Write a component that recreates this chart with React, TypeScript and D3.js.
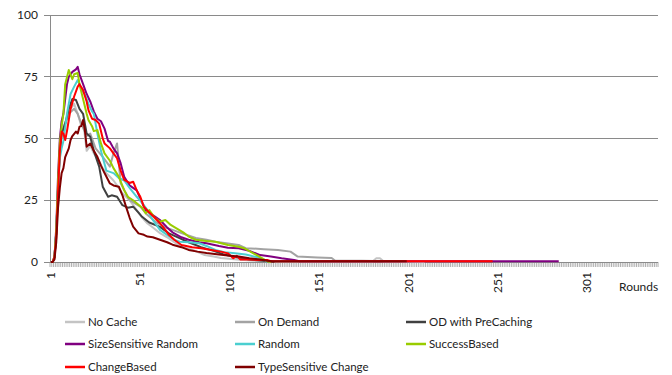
import React from "react";
import * as d3 from "d3";

const roundCount = 340;
const xTickLabels = [1, 51, 101, 151, 201, 251, 301];
const yTicks = [0, 25, 50, 75, 100];

const seriesNames = [
  "No Cache",
  "On Demand",
  "OD with PreCaching",
  "SizeSensitive Random",
  "Random",
  "SuccessBased",
  "ChangeBased",
  "TypeSensitive Change",
];
const seriesColors = [
  "#c4c4c4",
  "#a3a3a3",
  "#404040",
  "#800080",
  "#4bcfd0",
  "#99cc00",
  "#ff0000",
  "#800000",
];

// [round, value]
const noCache: [number, number][] = [
  [1, 0], [2, 0], [3, 2], [4, 12], [5, 30], [6, 44], [7, 50], [8, 55], [10, 58], [12, 62], [14, 64], [16, 60],
  [18, 55], [19, 57], [21, 45], [23, 47], [25, 44], [27, 42], [30, 38], [32, 36], [34, 34.5], [36, 33], [38, 31], [41, 27.8],
  [45, 25], [47, 23], [49, 21], [52, 18], [55, 15.6], [58, 14], [62, 11.7], [66, 10], [70, 8], [74, 6.2], [80, 5],
  [87, 2.8], [92, 2.2], [96, 1.6], [105, 1], [115, 0.5], [125, 0.3], [160, 0.3], [181, 0.3], [183, 1.5],
  [185, 1.5], [187, 0.3], [200, 0.2], [210, 0],
];
const onDemand: [number, number][] = [
  [1, 0], [2, 0], [3, 2], [4, 12], [5, 30], [6, 45], [7, 52], [9, 56], [11, 60], [14, 62], [16, 60], [18, 56],
  [21, 51], [23, 52], [26, 46], [30, 42.6], [34, 38.6], [36, 44], [38, 48], [39, 40], [40, 32], [45, 25],
  [51, 22.4], [55, 19], [60, 16], [65, 14], [69, 13], [74, 11.7], [82, 9.7], [88, 9], [93, 8.2], [100, 7.5],
  [106, 6.9], [110, 5.6], [120, 5.2], [128, 4.9], [135, 4.2], [139, 2.2], [150, 1.8], [158, 1.6], [160, 0.5],
  [175, 0.5], [190, 0.3], [195, 0],
];
const odPreCaching: [number, number][] = [
  [1, 0], [2, 0], [3, 2], [4, 12], [5, 30], [6, 45], [7, 52], [9, 56], [11, 62], [13, 66], [15, 65.6],
  [17, 62], [19, 60], [21, 52], [23, 50.7], [25, 45], [28, 38.6], [30, 30.5], [33, 26.4], [35, 27], [38, 26.4],
  [41, 23], [44, 22], [47, 22.4], [50, 20], [52, 18.3], [56, 16], [62, 14.2], [67, 11.6], [72, 10], [78, 8],
  [85, 6], [92, 4.5], [98, 3], [104, 2], [112, 1], [120, 0.5], [126, 0],
];
const sizeSensitiveRandom: [number, number][] = [
  [1, 0], [2, 0], [3, 2], [4, 14], [5, 35], [6, 50], [7, 57], [8, 60], [10, 72], [11, 75], [13, 77], [15, 78],
  [16, 79], [17, 76], [19, 72], [21, 68], [23, 65], [25, 61], [27, 58], [29, 57], [31, 54], [33, 49],
  [34, 48.7], [36, 46], [38, 44], [40, 40], [42, 34.5], [45, 31], [49, 29], [52, 24], [54, 21], [58, 19],
  [62, 17], [66, 14], [69, 12], [74, 10], [78, 9], [84, 8], [88, 7.6], [95, 6.5], [100, 5.8], [106, 5.6],
  [112, 4.5], [118, 2.8], [124, 2.2], [130, 1.5], [137, 0.8], [140, 0.3], [285, 0.3],
];
const randomS: [number, number][] = [
  [1, 0], [2, 0], [3, 2], [4, 12], [5, 30], [6, 42], [7, 46], [8, 49], [10, 60], [12, 68], [14, 71],
  [16, 73.7], [18, 70], [20, 68], [22, 64], [24, 61], [25, 60], [27, 52], [29, 45], [32, 37], [34, 36.5],
  [36, 36], [39, 34], [42, 33], [45, 30], [49, 26.4], [52, 24], [55, 21], [58, 17], [62, 13], [66, 11],
  [70, 9], [73, 8.2], [78, 8], [84, 7.6], [88, 6.5], [93, 4.9], [98, 4], [104, 3.5], [110, 3], [116, 2],
  [120, 1], [122, 0],
];
const successBased: [number, number][] = [
  [1, 0], [2, 0], [3, 2], [4, 12], [5, 32], [6, 48], [7, 55], [8, 60], [9, 72], [11, 77.7], [13, 74],
  [14, 76], [16, 76.5], [17, 72], [19, 66], [21, 60], [22, 57.5], [24, 55], [25, 53], [27, 53.4], [29, 48],
  [31, 44], [34, 41], [36, 38], [39, 34.5], [42, 29], [44, 26.4], [47, 25], [49, 23.8], [52, 22], [54, 19.7],
  [56, 21], [59, 18], [62, 16.3], [65, 17], [68, 15], [71, 13.7], [75, 12], [78, 10.3], [82, 9], [88, 8.5],
  [93, 8.2], [100, 6.9], [106, 6.2], [109, 5.6], [114, 3.6], [119, 1.6], [122, 0.3], [124, 0],
];
const changeBased: [number, number][] = [
  [1, 0], [2, 0], [3, 2], [4, 10], [5, 28], [6, 45], [7, 52.8], [8, 52], [9, 49.4], [10, 53], [11, 57.5],
  [12, 62], [14, 67], [16, 71], [17, 72], [19, 69.6], [21, 65], [22, 61.5], [24, 58], [26, 57.5], [28, 56],
  [30, 50], [31, 48], [34, 46], [36, 44], [38, 42], [40, 37], [42, 33.2], [45, 32], [47, 32.5], [49, 29],
  [51, 26.4], [53, 22.4], [56, 20], [59, 18], [62, 15.7], [65, 13], [67, 11], [70, 9], [74, 6.9], [80, 6],
  [85, 5.6], [90, 5], [96, 4.2], [100, 3.5], [103, 1.5], [105, 2.5], [107, 1], [112, 1], [118, 0.8],
  [122, 0.8], [124, 0.3], [248, 0.3],
];
const typeSensitiveChange: [number, number][] = [
  [1, 0], [2, 0], [3, 1], [4, 8], [5, 22], [6, 30], [7, 36], [8, 38], [9, 42.5], [11, 46], [12, 49.4],
  [13, 51], [15, 52.8], [16, 52], [17, 54.8], [18, 55], [19, 57.5], [20, 53.4], [21, 46.7], [23, 48],
  [25, 45], [27, 42.6], [29, 39], [31, 36], [34, 31.8], [36, 31], [39, 30.5], [41, 27], [43, 22.4],
  [45, 18], [47, 14.3], [50, 11.6], [53, 11], [55, 10.3], [58, 10], [62, 9], [66, 8], [69, 7], [74, 6],
  [78, 4.9], [83, 4.2], [88, 3.6], [95, 3], [100, 2.6], [106, 2.2], [112, 1.5], [118, 1], [122, 0.5],
  [125, 0.3], [200, 0.3],
];

const seriesData = [
  noCache,
  onDemand,
  odPreCaching,
  sizeSensitiveRandom,
  randomS,
  successBased,
  changeBased,
  typeSensitiveChange,
];

const FONT = "Lato, 'Open Sans', sans-serif";
const FS = 11.5;

export default function App() {
  const W = 672;
  const H = 375;
  const left = 50;
  const right = 658;
  const top = 15;
  const bottom = 262;

  const x = d3.scaleLinear().domain([0.5, roundCount + 0.5]).range([left, right]);
  const y = d3.scaleLinear().domain([0, 100]).range([bottom, top]);

  const line = d3
    .line<[number, number]>()
    .x((d) => x(d[0]))
    .y((d) => y(d[1]));

  const rounds = d3.range(1, roundCount + 2);

  const legendCols = [65, 235, 406];
  const legendRows = [322, 344, 367];

  return (
    <svg
      width={W}
      height={H}
      style={{ position: "absolute", left: 0, top: 0, background: "#fff" }}
      fontFamily={FONT}
    >
      {yTicks.map((t) => (
        <g key={t}>
          {t > 0 && (
            <line x1={left} x2={right} y1={y(t)} y2={y(t)} stroke="#8a8a8a" strokeWidth={1} shapeRendering="crispEdges" />
          )}
          <line x1={left - 6} x2={left} y1={y(t)} y2={y(t)} stroke="#8a8a8a" shapeRendering="crispEdges" />
          <text x={38} y={y(t)} dy="0.35em" textAnchor="end" fontSize={12} fill="#222">
            {t}
          </text>
        </g>
      ))}
      <line x1={left} x2={left} y1={top} y2={bottom} stroke="#8a8a8a" shapeRendering="crispEdges" />
      {rounds.map((r) => (
        <line
          key={r}
          x1={x(r - 0.5)}
          x2={x(r - 0.5)}
          y1={bottom}
          y2={bottom + 5}
          stroke="#9a9a9a"
          strokeWidth={0.8}
        />
      ))}
      <line x1={left} x2={right} y1={bottom} y2={bottom} stroke="#8a8a8a" shapeRendering="crispEdges" />
      {xTickLabels.map((t) => (
        <text
          key={t}
          transform={`translate(${x(t) + 4},${272}) rotate(-90)`}
          textAnchor="end"
          fontSize={12}
          fill="#222"
        >
          {t}
        </text>
      ))}
      <text x={619} y={291} fontSize={12} fill="#222">
        Rounds
      </text>

      {seriesData.map((d, i) => (
        <path
          key={i}
          d={line(d) || ""}
          fill="none"
          stroke={seriesColors[i]}
          strokeWidth={2}
          strokeLinejoin="round"
        />
      ))}

      {seriesNames.map((name, i) => {
        const cx = legendCols[i % 3];
        const cy = legendRows[Math.floor(i / 3)];
        return (
          <g key={name}>
            <line x1={cx} x2={cx + 20} y1={cy} y2={cy} stroke={seriesColors[i]} strokeWidth={2.5} />
            <text x={cx + 23} y={cy} dy="0.35em" fontSize={FS} fill="#222">
              {name}
            </text>
          </g>
        );
      })}
    </svg>
  );
}
